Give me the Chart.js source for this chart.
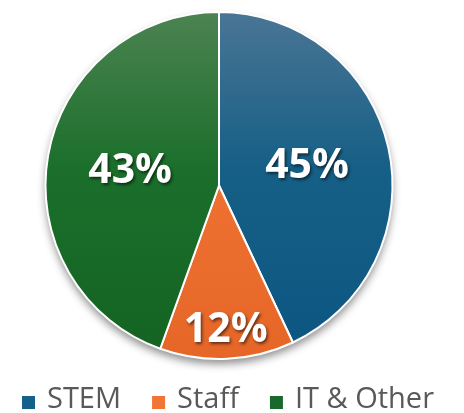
<!DOCTYPE html>
<html>
<head>
<meta charset="utf-8">
<script src="https://cdn.jsdelivr.net/npm/chart.js@4"></script>
<style>
  html, body { margin:0; padding:0; background:#fff; }
  #wrap { width:464px; height:413px; position:relative; }
</style>
</head>
<body>
<div id="wrap"><canvas id="chart" width="464" height="413"></canvas></div>
<script>
// ================= DATA =================
const categories = ["STEM", "Staff", "IT & Other"];
const shares = [43, 12.5, 44.5];           // slice sizes as drawn
const shareLabels = ["45%", "12%", "43%"]; // text printed on the slices

// ================= STYLE =================
const baseColors = ["#14618a", "#f07537", "#18692b"];
const gradStops = [
  ["#4a7595", "#165f86", "#0b5682"],
  ["#f4884a", "#f07232", "#e56626"],
  ["#4c8352", "#1b6f2b", "#146322"]
];
const labelRadius = [0.52, 0.83, 0.52];

function sliceFill(context){
  const chart = context.chart;
  const area = chart.chartArea;
  if(!area) return baseColors[context.dataIndex];
  const g = chart.ctx.createLinearGradient(0, area.top, 0, area.bottom);
  const s = gradStops[context.dataIndex];
  g.addColorStop(0, s[0]);
  g.addColorStop(0.45, s[1]);
  g.addColorStop(1, s[2]);
  return g;
}

// shadow under the pie
const pieShadow = {
  id: "pieShadow",
  beforeDatasetsDraw(chart){
    const arc = chart.getDatasetMeta(0).data[0];
    if(!arc) return;
    const ctx = chart.ctx;
    ctx.save();
    ctx.shadowColor = "rgba(0,0,0,0.45)";
    ctx.shadowBlur = 9;
    ctx.shadowOffsetY = 5;
    ctx.beginPath();
    ctx.arc(arc.x, arc.y, arc.outerRadius, 0, Math.PI*2);
    ctx.fillStyle = "#ffffff";
    ctx.fill();
    ctx.restore();
  }
};

// percentage text on the slices
const sliceText = {
  id: "sliceText",
  afterDatasetsDraw(chart){
    const ctx = chart.ctx;
    chart.getDatasetMeta(0).data.forEach((arc, i)=>{
      const mid = (arc.startAngle + arc.endAngle) / 2;
      const r = arc.outerRadius * labelRadius[i];
      const x = arc.x + Math.cos(mid) * r;
      const y = arc.y + Math.sin(mid) * r;
      ctx.save();
      ctx.font = "bold 41px 'Open Sans', sans-serif";
      ctx.textAlign = "center";
      ctx.textBaseline = "middle";
      ctx.shadowColor = "rgba(0,0,0,0.55)";
      ctx.shadowBlur = 3;
      ctx.shadowOffsetX = 1.5;
      ctx.shadowOffsetY = 2;
      ctx.fillStyle = "#ffffff";
      ctx.fillText(shareLabels[i], x, y + 1);
      ctx.restore();
    });
  }
};

// legend row along the bottom
const bottomLegend = {
  id: "bottomLegend",
  afterDraw(chart){
    const ctx = chart.ctx;
    const box = 13, boxGap = 12, itemGap = 31, baseline = 408, centerX = 228;
    ctx.save();
    ctx.font = "29px 'Open Sans', sans-serif";
    const widths = categories.map(c=>ctx.measureText(c).width);
    let total = 0;
    widths.forEach((w, i)=>{ total += box + boxGap + w + (i < widths.length-1 ? itemGap : 0); });
    let x = centerX - total/2;
    ctx.textBaseline = "alphabetic";
    ctx.textAlign = "left";
    categories.forEach((c, i)=>{
      ctx.fillStyle = baseColors[i];
      ctx.fillRect(x, baseline - 12, box, box);
      x += box + boxGap;
      ctx.fillStyle = "#595959";
      ctx.fillText(c, x, baseline);
      x += widths[i] + itemGap;
    });
    ctx.restore();
  }
};

new Chart(document.getElementById("chart"), {
  type: "pie",
  data: {
    labels: categories,
    datasets: [{
      data: shares,
      backgroundColor: sliceFill,
      borderColor: "#ffffff",
      borderWidth: 2
    }]
  },
  options: {
    responsive: false,
    animation: false,
    layout: { padding: { top: 11, left: 0, right: 26, bottom: 53 } },
    plugins: {
      tooltip: { enabled: false },
      legend: { display: false }
    }
  },
  plugins: [pieShadow, sliceText, bottomLegend]
});
</script>
</body>
</html>
